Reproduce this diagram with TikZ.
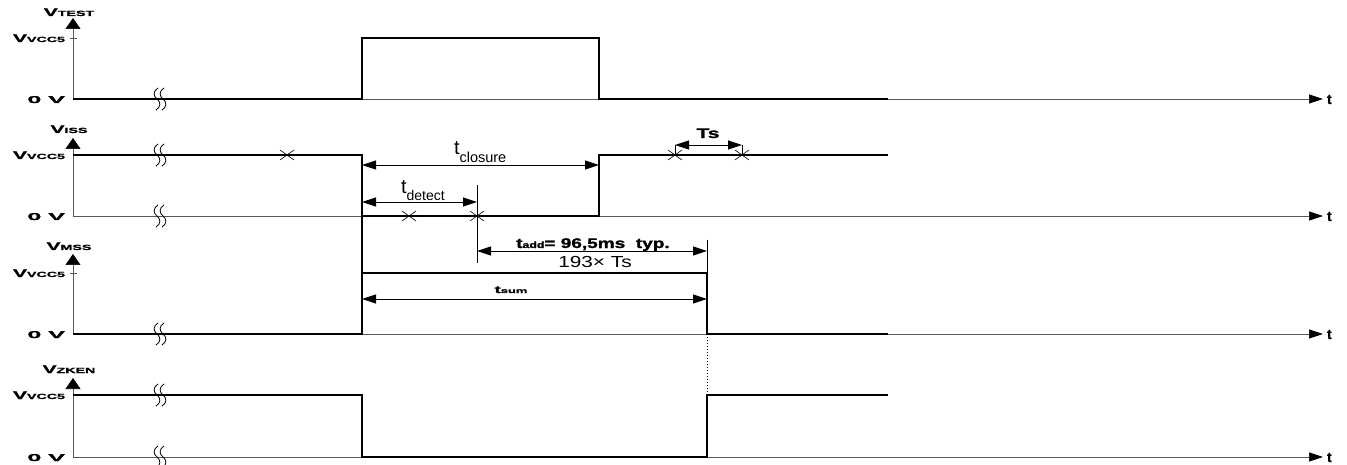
\documentclass[tikz,border=0pt]{standalone}
\usepackage{fontspec}
\setmainfont{Liberation Sans}
\newfontfamily\hv{Liberation Sans}[BoldFeatures={FakeBold=1.2}]
\usepackage{graphicx}
\usetikzlibrary{arrows.meta}
\newcommand{\bw}[3]{\scalebox{#1}[1]{\fontsize{#2}{#2}\selectfont\hv\bfseries #3}}
\newcommand{\rg}[2]{{\fontsize{#1}{#1}\selectfont #2}}
\begin{document}
\begin{tikzpicture}[x=1pt,y=-1pt,
  sig/.style={line width=1.3pt, black},
  axl/.style={line width=0.7pt, black!65},
  vax/.style={line width=0.7pt, black!65, -{Triangle[length=11pt,width=15pt,color=black]}},
  tax/.style={line width=0.7pt, black!65, -{Triangle[length=14pt,width=9pt,color=black]}},
  dim/.style={line width=0.8pt, {Triangle[length=14pt,width=9pt]}-{Triangle[length=14pt,width=9pt]}},
  extl/.style={line width=0.8pt},
  lab/.style={inner sep=0pt, outer sep=0pt},
  brk/.pic={\draw[line width=0.8pt] (-2,-11) .. controls (-7,-8) and (-7,-3) .. (-3,0) .. controls (1,3) and (1,8) .. (-4,11);
            \draw[line width=0.8pt] (4,-11) .. controls (-1,-8) and (-1,-3) .. (3,0) .. controls (7,3) and (7,8) .. (2,11);},
  crs/.pic={\draw[line width=0.6pt] (-7,-5) -- (7,5) (-7,5) -- (7,-5);}
]
\useasboundingbox (0,0) rectangle (1347,465);

% ---------------- Panel 1 : VTEST
\coordinate (o1) at (73,99); \coordinate (y1) at (73,18); \coordinate (e1) at (1323,99);
\draw[vax] (o1) -- (y1);
\draw[tax] (o1) -- (e1);
\draw[axl] (70,38) -- (77,38);
\node[lab, anchor=base] (l1) at (69,16) {\bw{1.9}{11}{V}\bw{1.9}{7.5}{TEST}};
\node[lab, anchor=base east] (h1) at (65,42) {\bw{1.9}{11}{V}\bw{1.9}{7.5}{VCC5}};
\node[lab, anchor=base east] (z1) at (65,103) {\bw{2.5}{10}{0 V}};
\node[lab, anchor=base west] (t1) at (1327,104) {\bw{1}{14}{t}};
\draw[sig] (o1) -- (362,99) -- (362,38) -- (599,38) -- (599,99) -- (888,99);
\pic at (160,99) {brk};

% ---------------- Panel 2 : VISS
\coordinate (o2) at (73,216); \coordinate (y2) at (73,138); \coordinate (e2) at (1323,216);
\draw[vax] (o2) -- (y2);
\draw[tax] (o2) -- (e2);
\node[lab, anchor=base] (l2) at (69,133) {\bw{1.9}{11}{V}\bw{1.9}{7.5}{ISS}};
\node[lab, anchor=base east] (h2) at (65,159) {\bw{1.9}{11}{V}\bw{1.9}{7.5}{VCC5}};
\node[lab, anchor=base east] (z2) at (65,220) {\bw{2.5}{10}{0 V}};
\node[lab, anchor=base west] (t2) at (1327,221) {\bw{1}{14}{t}};
\draw[sig] (73,155) -- (362,155) -- (362,216) -- (599,216) -- (599,155) -- (888,155);
\pic at (160,155) {brk};
\pic at (160,216) {brk};
\pic at (287,155) {crs};
\pic at (409,216) {crs};
\pic at (477,216) {crs};
\pic at (675,155) {crs};
\pic at (742,155) {crs};

% t_closure
\coordinate (cl1) at (362,165); \coordinate (cl2) at (599,165);
\draw[dim] (cl1) -- (cl2);
\node[lab, anchor=base west] (tcl) at (454,155) {\rg{20}{t}\raisebox{-8pt}{\rg{14.5}{closure}}};
% t_detect
\coordinate (de1) at (362,202); \coordinate (de2) at (477,202);
\draw[dim] (de1) -- (de2);
\node[lab, anchor=base west] (tde) at (401,194) {\rg{20}{t}\raisebox{-7pt}{\rg{14}{detect}}};
% Ts
\coordinate (ts1) at (675,145); \coordinate (ts2) at (742,145);
\coordinate (ts1b) at (675,155); \coordinate (ts2b) at (742,155);
\draw[extl] (ts1) -- (ts1b);
\draw[extl] (ts2) -- (ts2b);
\draw[dim] (ts1) -- (ts2);
\node[lab, anchor=base] (tsl) at (708,138) {\bw{1.5}{14}{Ts}};

% ---------------- Panel 3 : VMSS
\coordinate (o3) at (73,334); \coordinate (y3) at (73,254); \coordinate (e3) at (1323,334);
\draw[vax] (o3) -- (y3);
\draw[tax] (o3) -- (e3);
\draw[axl] (70,273) -- (77,273);
\node[lab, anchor=base] (l3) at (69,250) {\bw{1.9}{11}{V}\bw{1.9}{7.5}{MSS}};
\node[lab, anchor=base east] (h3) at (65,277) {\bw{1.9}{11}{V}\bw{1.9}{7.5}{VCC5}};
\node[lab, anchor=base east] (z3) at (65,338) {\bw{2.5}{10}{0 V}};
\node[lab, anchor=base west] (t3) at (1327,339) {\bw{1}{14}{t}};
\draw[sig] (o3) -- (362,334) -- (362,273) -- (707,273) -- (707,334) -- (888,334);
\pic at (160,334) {brk};
% extension lines
\coordinate (x362a) at (362,216); \coordinate (x362b) at (362,273);
\draw[sig] (x362a) -- (x362b);
\coordinate (x707a) at (707,240); \coordinate (x707b) at (707,273);
\draw[extl] (x707a) -- (x707b);
\coordinate (x477a) at (477,185); \coordinate (x477b) at (477,263);
\draw[extl] (x477a) -- (x477b);
% t_add
\coordinate (ad1) at (477,251); \coordinate (ad2) at (707,251);
\draw[dim] (ad1) -- (ad2);
\node[lab, anchor=base] (tad) at (593,248) {\bw{1.36}{14}{t}\bw{1.36}{9}{add}\bw{1.36}{14}{= 96,5ms\ \ typ.}};
\node[lab, anchor=base] (tad2) at (595,268) {\scalebox{1.3}[1]{\rg{16}{193× Ts}}};
% t_sum
\coordinate (su1) at (362,299); \coordinate (su2) at (707,299);
\draw[dim] (su1) -- (su2);
\node[lab, anchor=base] (tsu) at (511,293) {\bw{1.85}{10}{t}\bw{1.85}{7}{sum}};

% ---------------- Panel 4 : VZKEN
\coordinate (o4) at (73,457); \coordinate (y4) at (73,378); \coordinate (e4) at (1323,457);
\draw[vax] (o4) -- (y4);
\draw[tax] (o4) -- (e4);
\node[lab, anchor=base] (l4) at (69,373) {\bw{1.9}{11}{V}\bw{1.9}{7.5}{ZKEN}};
\node[lab, anchor=base east] (h4) at (65,399) {\bw{1.9}{11}{V}\bw{1.9}{7.5}{VCC5}};
\node[lab, anchor=base east] (z4) at (65,461) {\bw{2.5}{10}{0 V}};
\node[lab, anchor=base west] (t4) at (1327,462) {\bw{1}{14}{t}};
\draw[sig] (73,395) -- (362,395) -- (362,457) -- (707,457) -- (707,395) -- (888,395);
\pic at (160,395) {brk};
\pic at (160,457) {brk};
\coordinate (dt1) at (707,334); \coordinate (dt2) at (707,395);
\draw[line width=1pt, dotted] (dt1) -- (dt2);
\end{tikzpicture}
\end{document}
